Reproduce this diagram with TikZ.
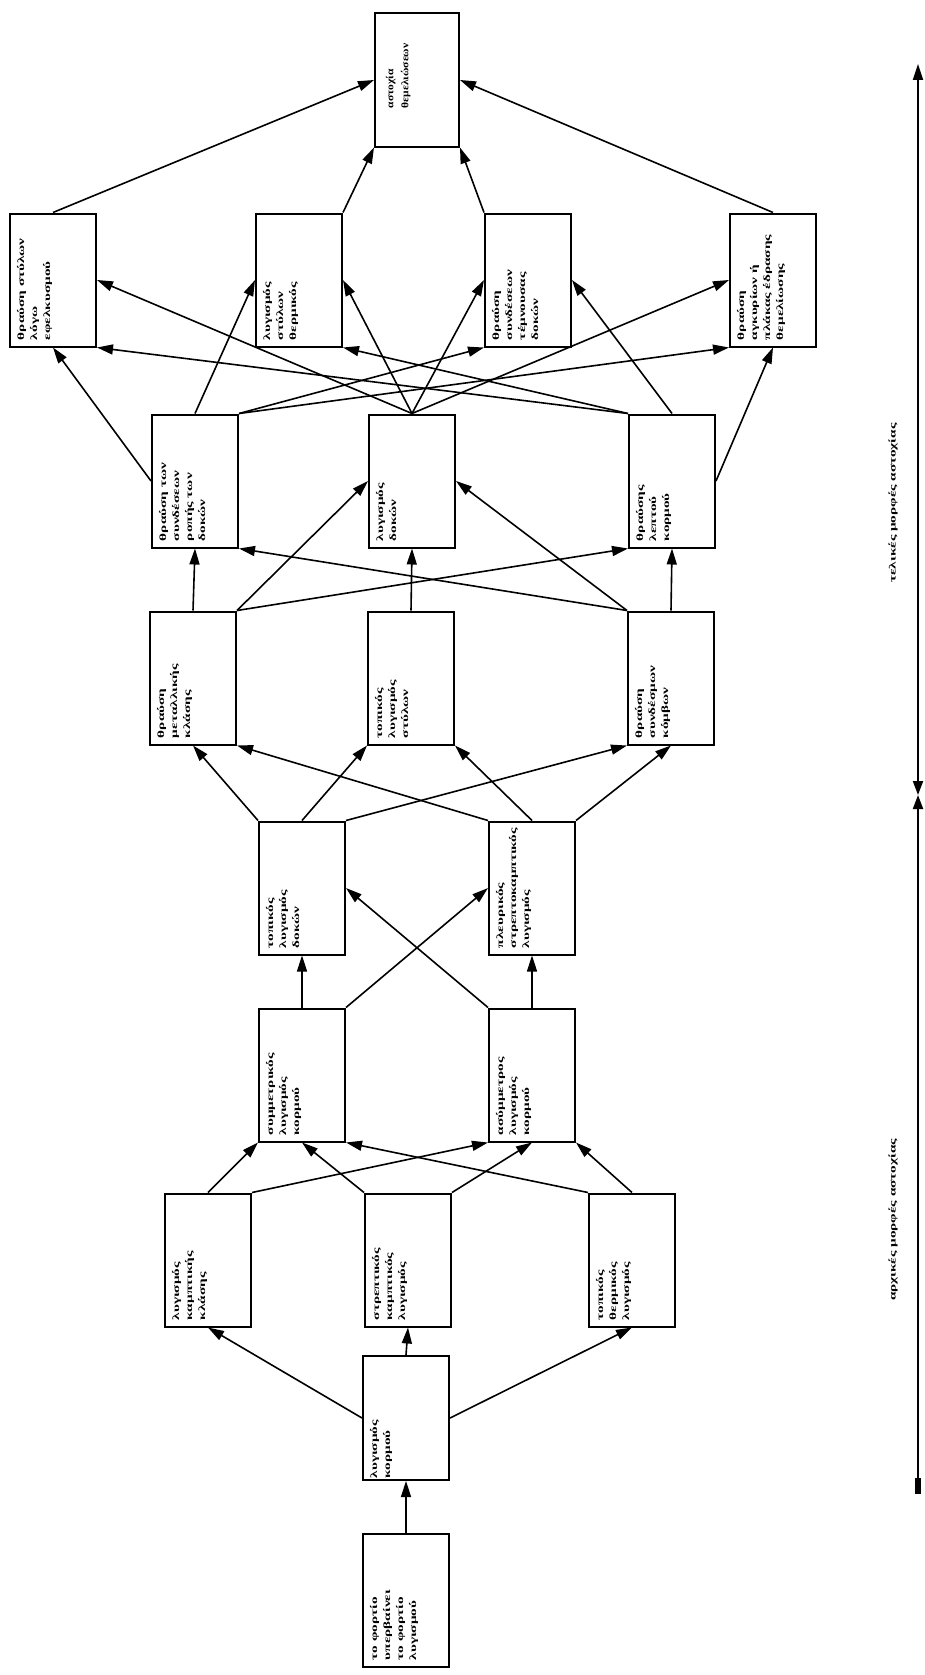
\documentclass[tikz,border=0pt]{standalone}
\usepackage{fontspec}
\setmainfont{Liberation Serif}
\usetikzlibrary{arrows.meta,calc}
\newcommand{\bt}[1]{\rotatebox{90}{\scalebox{1.6}[1]{\parbox[c][72pt][t]{75pt}{\raggedright #1}}}}
\newcommand{\btt}[1]{\rotatebox{90}{\hspace*{15pt}\scalebox{1.15}[1]{\parbox[c][62pt][t]{62pt}{\bfseries\fontsize{10}{15}\selectfont\raggedright #1}}}}
\newcommand{\stretchlab}[1]{\scalebox{1.6}[1]{#1}}
\begin{document}
\begin{tikzpicture}[x=1pt,y=-1pt,
  box/.style={draw, line width=2pt, minimum width=86pt, minimum height=133pt, inner sep=0pt,
    font=\bfseries\fontsize{9.5}{13}\selectfont},
  arr/.style={-{Triangle[length=16pt,width=10pt]}, line width=1.6pt},
  axl/.style={font=\bfseries\fontsize{9.5}{12}\selectfont, rotate=90}]
\useasboundingbox[fill=white] (0,0) rectangle (925,1675);
% boxes
\node[box, minimum width=84pt] (top) at (417,80) {\btt{αστοχία\\θεμελιώσεων}};
\node[box] (a) at (53,280) {\bt{θραύση στύλων\\λόγω\\εφελκυσμού}};
\node[box] (b) at (299,280) {\bt{λυγισμός\\στύλων\\θερμικός}};
\node[box] (c) at (528,280) {\bt{θραύση\\συνδέσεων\\τέμνουσας\\δοκών}};
\node[box] (d) at (773,280) {\bt{θραύση\\αγκυρίων ή\\πλάκας έδρασης\\θεμελίωσης}};
\node[box] (l3) at (195,481) {\bt{θραύση των\\συνδέσεων\\ροπής των\\δοκών}};
\node[box] (m3) at (412,481) {\bt{λυγισμός\\δοκών}};
\node[box] (r3) at (672,481) {\bt{θραύσης\\λεπτού\\κορμού}};
\node[box] (l4) at (193,678) {\bt{θραύση\\μεταλλικής\\κλάσης}};
\node[box] (m4) at (411,678) {\bt{τοπικός\\λυγισμός\\στύλων}};
\node[box] (r4) at (671,678) {\bt{θραύση\\συνδέσμων\\κόμβων}};
\node[box] (l5) at (302,888) {\bt{τοπικός\\λυγισμός\\δοκών}};
\node[box] (r5) at (532,888) {\bt{πλευρικός\\στρεπτοκαμπτικός\\λυγισμός}};
\node[box] (l6) at (302,1075) {\bt{συμμετρικός\\λυγισμός\\κορμού}};
\node[box] (r6) at (532,1075) {\bt{ασύμμετρος\\λυγισμός\\κορμού}};
\node[box] (l7) at (208,1260) {\bt{λυγισμός\\καμπτικής\\κλάσης}};
\node[box] (m7) at (408,1260) {\bt{στρεπτικός\\καμπτικός\\λυγισμός}};
\node[box] (r7) at (632,1260) {\bt{τοπικός\\θερμικός\\λυγισμός}};
\node[box, minimum height=124pt] (r8) at (406,1418) {\bt{λυγισμός\\κορμού}};
\node[box] (r9) at (406,1600) {\bt{το φορτίο\\υπερβαίνει\\το φορτίο\\λυγισμού}};
% connectors: bottom rows
\draw[arr] (r9.north) -- (r8.south);
\draw[arr] (r8.west) -- (l7.south);
\draw[arr] (r8.north) -- (m7.south);
\draw[arr] (r8.east) -- (r7.south);
\draw[arr] (l7.north) -- (l6.south west);
\draw[arr] (l7.north east) -- (r6.south west);
\draw[arr] (m7.north west) -- (l6.south);
\draw[arr] (m7.north east) -- (r6.south);
\draw[arr] (r7.north west) -- (l6.south east);
\draw[arr] (r7.north) -- (r6.south east);
\draw[arr] (l6.north) -- (l5.south);
\draw[arr] (r6.north) -- (r5.south);
\draw[arr] (l6.north east) -- (r5.west);
\draw[arr] (r6.north west) -- (l5.east);
\draw[arr] (l5.north west) -- (l4.south);
\draw[arr] (l5.north) -- (m4.south west);
\draw[arr] (l5.north east) -- (r4.south west);
\draw[arr] (r5.north west) -- (l4.south east);
\draw[arr] (r5.north) -- (m4.south east);
\draw[arr] (r5.north east) -- (r4.south);
% row 4 -> row 3
\draw[arr] (l4.north) -- (l3.south);
\draw[arr] (m4.north) -- (m3.south);
\draw[arr] (r4.north) -- (r3.south);
\draw[arr] (l4.north east) -- (m3.west);
\draw[arr] (l4.north east) -- (r3.south west);
\draw[arr] (r4.north west) -- (m3.east);
\draw[arr] (r4.north west) -- (l3.south east);
% row 3 -> row 2
\draw[arr] (l3.west) -- (a.south);
\draw[arr] (m3.north) -- (a.east);
\draw[arr] (r3.north west) -- (a.south east);
\draw[arr] (l3.north) -- (b.west);
\draw[arr] (m3.north) -- (b.east);
\draw[arr] (r3.north west) -- (b.south east);
\draw[arr] (l3.north east) -- (c.south west);
\draw[arr] (m3.north) -- (c.west);
\draw[arr] (r3.north) -- (c.east);
\draw[arr] (l3.north east) -- (d.south west);
\draw[arr] (m3.north) -- (d.west);
\draw[arr] (r3.east) -- (d.south);
% row 2 -> top
\draw[arr] (a.north) -- (top.west);
\draw[arr] (b.north east) -- (top.south west);
\draw[arr] (c.north west) -- (top.south east);
\draw[arr] (d.north) -- (top.east);
% axis
\coordinate (ax0) at (918,1478);
\coordinate (ax1) at (918,795);
\coordinate (ax2) at (918,64);
\draw[line width=2pt, -{Triangle[length=14pt,width=10pt]}] (ax0) -- (ax1);
\draw[line width=2pt, {Triangle[length=14pt,width=10pt]}-{Triangle[length=16pt,width=10pt]}] (ax1) -- (ax2);
\draw[line width=6pt] (ax0) -- ([yshift=-16pt]ax0);
\node[axl] (lt) at (893,503) {\stretchlab{τελικές μορφές αστοχίας}};
\node[axl] (lb) at (893,1220) {\stretchlab{αρχικές μορφές αστοχίας}};
\end{tikzpicture}
\end{document}
